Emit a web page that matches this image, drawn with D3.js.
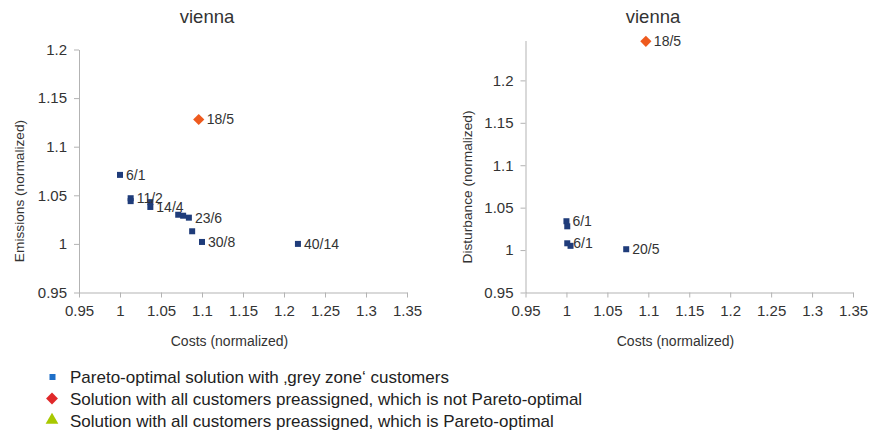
<!DOCTYPE html>
<html><head><meta charset="utf-8">
<script src="https://cdn.jsdelivr.net/npm/d3@7"></script>
<style>body{margin:0;background:#fff;font-family:"Liberation Sans",Arial,sans-serif;}</style>
</head><body>
<svg id="c" width="871" height="432"></svg>
<script>
// Left chart: Costs vs Emissions
const leftCosts     = [1.000, 1.013, 1.013, 1.037, 1.037, 1.071, 1.077, 1.084, 1.088, 1.100, 1.217];
const leftEmissions = [1.071, 1.047, 1.044, 1.043, 1.038, 1.030, 1.029, 1.027, 1.013, 1.002, 1.000];
const leftLabels    = ["6/1", "11/2", "", "", "14/4", "", "", "23/6", "", "30/8", "40/14"];
const leftPreCost = [1.096], leftPreEmis = [1.128], leftPreLabel = ["18/5"];

// Right chart: Costs vs Disturbance
const rightCosts       = [1.000, 1.001, 1.001, 1.005, 1.073];
const rightDisturbance = [1.034, 1.028, 1.008, 1.005, 1.001];
const rightLabels      = ["6/1", "", "6/1", "", "20/5"];
const rightPreCost = [1.097], rightPreDist = [1.246], rightPreLabel = ["18/5"];

const xTicks = [0.95, 1, 1.05, 1.1, 1.15, 1.2, 1.25, 1.3, 1.35];
const yTicks = [0.95, 1, 1.05, 1.1, 1.15, 1.2];
const title = "vienna";
const xTitle = "Costs (normalized)";
const legendItems = [
  "Pareto-optimal solution with \u201Agrey zone\u2018 customers",
  "Solution with all customers preassigned, which is not Pareto-optimal",
  "Solution with all customers preassigned, which is Pareto-optimal"
];

const svg = d3.select("#c");
const fmt = d => String(+d.toFixed(2));

function chart(cfg) {
  const x = d3.scaleLinear().domain([0.95, 1.35]).range([cfg.x0, cfg.x1]);
  const y = d3.scaleLinear().domain([0.95, cfg.ymax]).range([292.5, cfg.ytop]);
  const g = svg.append("g");
  const xa = g.append("g").attr("transform", "translate(0,292.5)")
    .call(d3.axisBottom(x).tickValues(xTicks).tickFormat(fmt).tickSize(5).tickSizeOuter(0));
  const ya = g.append("g").attr("transform", `translate(${cfg.x0},0)`)
    .call(d3.axisLeft(y).tickValues(yTicks).tickFormat(fmt).tickSize(5).tickSizeOuter(0));
  [xa, ya].forEach(a => {
    a.selectAll("path,line").attr("stroke", "#b3b3b3");
    a.selectAll("text").attr("fill", "#333").attr("font-size", 15).attr("font-family", "Liberation Sans, Arial");
  });
  xa.selectAll("text").attr("dy", "1.05em");
  ya.selectAll("text").attr("dx", "-4");
  g.append("text").attr("x", cfg.tx).attr("y", 22.5).attr("text-anchor", "middle")
    .attr("font-size", 18.5).attr("fill", "#333").text(title);
  g.append("text").attr("x", cfg.xtx).attr("y", 346).attr("text-anchor", "middle")
    .attr("font-size", 14).attr("fill", "#333").text(xTitle);
  g.append("text").attr("transform", `translate(${cfg.yx},${cfg.yty}) rotate(-90)`)
    .attr("text-anchor", "middle").attr("font-size", 13.7).attr("fill", "#333").text(cfg.yTitle);
  const pts = cfg.xs.map((v, i) => ({x: v, y: cfg.ys[i], l: cfg.labels[i]}));
  g.selectAll("rect.p").data(pts).join("rect")
    .attr("x", d => x(d.x) - 3).attr("y", d => y(d.y) - 3).attr("width", 6).attr("height", 6)
    .attr("fill", "#1f3c7a");
  g.selectAll("text.pl").data(pts.filter(d => d.l)).join("text")
    .attr("x", d => x(d.x) + 6).attr("y", d => y(d.y) + 5).attr("font-size", 14)
    .attr("fill", "#333").text(d => d.l);
  const pre = cfg.px.map((v, i) => ({x: v, y: cfg.py[i], l: cfg.pl[i]}));
  g.selectAll("path.d").data(pre).join("path")
    .attr("d", d3.symbol(d3.symbolDiamond2, 80)())
    .attr("transform", d => `translate(${x(d.x)},${y(d.y)})`).attr("fill", "#ee5a1e");
  g.selectAll("text.dl").data(pre).join("text")
    .attr("x", d => x(d.x) + 8).attr("y", d => y(d.y) + 5).attr("font-size", 14)
    .attr("fill", "#333").text(d => d.l);
}

chart({x0: 79, x1: 407, ymax: 1.2, ytop: 49.5, tx: 207, xtx: 229.5, yx: 23.5, yty: 191,
  yTitle: "Emissions (normalized)", xs: leftCosts, ys: leftEmissions, labels: leftLabels,
  px: leftPreCost, py: leftPreEmis, pl: leftPreLabel});
chart({x0: 525.5, x1: 853, ymax: 1.247, ytop: 40.5, tx: 653, xtx: 675.5, yx: 472, yty: 187,
  yTitle: "Disturbance (normalized)", xs: rightCosts, ys: rightDisturbance, labels: rightLabels,
  px: rightPreCost, py: rightPreDist, pl: rightPreLabel});

// Legend
const lg = svg.append("g");
const ly = [377, 398.5, 420];
const lb = [383, 405, 426.5];
legendItems.forEach((t, i) => {
  lg.append("text").attr("x", 70).attr("y", lb[i]).attr("font-size", 17)
    .attr("fill", "#222").text(t);
});
lg.append("rect").attr("x", 49.5).attr("y", ly[0] - 3).attr("width", 6).attr("height", 6).attr("fill", "#1e6fc8");
lg.append("path").attr("d", d3.symbol(d3.symbolDiamond2, 90)()).attr("transform", `translate(52,${ly[1]})`).attr("fill", "#e0282a");
lg.append("path").attr("d", d3.symbol(d3.symbolTriangle, 70)()).attr("transform", `translate(52,${ly[2]})`).attr("fill", "#a8c800");
</script>
</body></html>
